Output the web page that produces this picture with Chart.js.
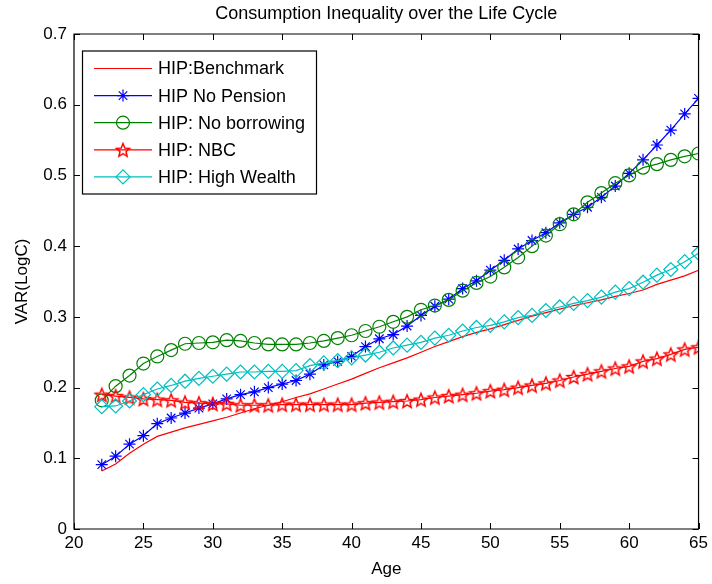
<!DOCTYPE html>
<html><head><meta charset="utf-8">
<script src="https://cdn.jsdelivr.net/npm/chart.js@4.4.0/dist/chart.umd.min.js"></script>
<style>html,body{margin:0;padding:0;background:#fff;}canvas{display:block;}</style>
</head><body>
<canvas id="c" width="712" height="584"></canvas>
<script>
const ages = [22,23,24,25,26,27,28,29,30,31,32,33,34,35,36,37,38,39,40,41,42,43,44,45,46,47,48,49,50,51,52,53,54,55,56,57,58,59,60,61,62,63,64,65];
const benchmark = [0.082,0.092,0.107,0.120,0.131,0.137,0.143,0.148,0.153,0.158,0.164,0.170,0.175,0.180,0.186,0.191,0.198,0.205,0.212,0.220,0.228,0.235,0.242,0.250,0.258,0.265,0.272,0.278,0.283,0.289,0.295,0.301,0.306,0.311,0.316,0.320,0.324,0.329,0.333,0.338,0.346,0.352,0.358,0.366];
const noPension = [0.091,0.103,0.120,0.132,0.149,0.157,0.164,0.171,0.177,0.184,0.190,0.194,0.200,0.205,0.210,0.219,0.232,0.237,0.244,0.258,0.269,0.275,0.287,0.302,0.315,0.325,0.340,0.351,0.366,0.380,0.396,0.408,0.419,0.433,0.445,0.455,0.469,0.485,0.503,0.522,0.543,0.564,0.587,0.609];
const noBorrowing = [0.182,0.202,0.217,0.234,0.244,0.253,0.262,0.263,0.264,0.267,0.266,0.263,0.261,0.261,0.261,0.263,0.266,0.270,0.274,0.280,0.286,0.293,0.300,0.310,0.316,0.324,0.337,0.348,0.357,0.370,0.384,0.400,0.415,0.431,0.445,0.462,0.475,0.489,0.500,0.511,0.516,0.522,0.527,0.531];
const nbc = [0.190,0.188,0.186,0.184,0.183,0.182,0.179,0.178,0.177,0.177,0.175,0.175,0.175,0.176,0.176,0.176,0.176,0.176,0.176,0.178,0.179,0.180,0.181,0.183,0.186,0.188,0.190,0.192,0.195,0.197,0.200,0.203,0.206,0.210,0.215,0.219,0.223,0.227,0.230,0.237,0.241,0.247,0.254,0.257];
const highWealth = [0.173,0.174,0.181,0.190,0.198,0.203,0.209,0.213,0.216,0.219,0.222,0.222,0.223,0.223,0.224,0.231,0.235,0.238,0.242,0.246,0.250,0.256,0.260,0.264,0.270,0.274,0.280,0.285,0.288,0.293,0.299,0.302,0.309,0.314,0.319,0.323,0.328,0.335,0.340,0.349,0.359,0.367,0.378,0.390];
const seriesNames = ['HIP:Benchmark','HIP No Pension','HIP: No borrowing','HIP: NBC','HIP: High Wealth'];
const xTicks = [20,25,30,35,40,45,50,55,60,65];
const yTicks = [0,0.1,0.2,0.3,0.4,0.5,0.6,0.7];
const titleText = 'Consumption Inequality over the Life Cycle';
const xLabel = 'Age';
const yLabel = 'VAR(LogC)';

const FONT = '"Liberation Sans", Arial, Helvetica, sans-serif';

function makePentagram(color, r) {
  const s = Math.ceil(r * 2 + 4);
  const c = document.createElement('canvas');
  c.width = s; c.height = s;
  const g = c.getContext('2d');
  g.strokeStyle = color; g.lineWidth = 1.5;
  g.lineJoin = 'miter';
  g.beginPath();
  for (let i = 0; i < 10; i++) {
    const rr = i % 2 === 0 ? r : r * 0.45;
    const a = -Math.PI / 2 + i * Math.PI / 5;
    const x = s / 2 + rr * Math.cos(a), y = s / 2 + 0.8 + rr * Math.sin(a);
    if (i) g.lineTo(x, y); else g.moveTo(x, y);
  }
  g.closePath(); g.stroke();
  return c;
}
const pent = makePentagram('#ff0000', 7);

const styles = [
  {color:'#ff0000', pointStyle:'circle', radius:0},
  {color:'#0000ff', pointStyle:'star', radius:6},
  {color:'#008000', pointStyle:'circle', radius:6.5},
  {color:'#ff0000', pointStyle:pent, radius:7},
  {color:'#00bfbf', pointStyle:'rectRot', radius:7}
];
const values = [benchmark, noPension, noBorrowing, nbc, highWealth];

const datasets = values.map((vals, i) => ({
  label: seriesNames[i],
  data: ages.map((a, k) => ({x: a, y: vals[k]})),
  borderColor: styles[i].color,
  borderWidth: 1.2,
  backgroundColor: 'rgba(0,0,0,0)',
  pointStyle: styles[i].pointStyle,
  pointRadius: styles[i].radius,
  pointBorderColor: styles[i].color,
  pointBackgroundColor: 'rgba(0,0,0,0)',
  pointBorderWidth: 1.2,
  tension: 0,
  fill: false,
  order: 4 - i
}));

const boxPlugin = {
  id: 'boxPlugin',
  afterDatasetsDraw(chart) {
    const ctx = chart.ctx;
    const {left, right, top, bottom} = chart.chartArea;
    const xs = chart.scales.x, ys = chart.scales.y;
    ctx.save();
    ctx.strokeStyle = '#000';
    ctx.lineWidth = 1.2;
    ctx.beginPath();
    ctx.rect(left, top, right - left, bottom - top);
    ctx.stroke();
    ctx.lineWidth = 1;
    ctx.beginPath();
    xTicks.forEach(v => {
      const px = Math.round(xs.getPixelForValue(v)) + 0.5;
      ctx.moveTo(px, bottom); ctx.lineTo(px, bottom - 6);
      ctx.moveTo(px, top); ctx.lineTo(px, top + 6);
    });
    yTicks.forEach(v => {
      const py = Math.round(ys.getPixelForValue(v)) + 0.5;
      ctx.moveTo(left, py); ctx.lineTo(left + 6, py);
      ctx.moveTo(right, py); ctx.lineTo(right - 6, py);
    });
    ctx.stroke();
    ctx.restore();
  }
};

const legendPlugin = {
  id: 'boxLegend',
  afterDraw(chart) {
    const ctx = chart.ctx;
    const bx = 82.5, by = 51, bw = 234, bh = 143;
    ctx.save();
    ctx.fillStyle = '#fff';
    ctx.fillRect(bx, by, bw, bh);
    ctx.strokeStyle = '#000';
    ctx.lineWidth = 1.2;
    ctx.strokeRect(bx, by, bw, bh);
    ctx.font = '18px ' + FONT;
    ctx.textBaseline = 'middle';
    ctx.textAlign = 'left';
    seriesNames.forEach((name, i) => {
      const y = 68.5 + i * 27.1;
      const st = styles[i];
      ctx.strokeStyle = st.color;
      ctx.lineWidth = 1.2;
      ctx.beginPath();
      ctx.moveTo(94, y); ctx.lineTo(152, y);
      ctx.stroke();
      if (st.radius > 0) {
        ctx.fillStyle = 'rgba(0,0,0,0)';
        ctx.lineWidth = 1.2;
        Chart.helpers.drawPoint(ctx, {pointStyle: st.pointStyle, radius: st.radius, rotation: 0, borderWidth: 1.2}, 123, y);
      }
      ctx.fillStyle = '#000';
      ctx.fillText(name, 158, y + 1);
    });
    ctx.restore();
  }
};

new Chart(document.getElementById('c'), {
  type: 'line',
  data: {datasets},
  options: {
    responsive: false,
    animation: false,
    devicePixelRatio: 1,
    layout: {padding: {left: 0, right: 12, top: 0, bottom: 0}},
    plugins: {
      legend: {display: false},
      tooltip: {enabled: false},
      title: {
        display: true, text: titleText, color: '#000', fullSize: false,
        font: {family: FONT, size: 18, weight: 'normal'},
        padding: {top: 3.5, bottom: 8.9}
      }
    },
    scales: {
      x: {
        type: 'linear', min: 20, max: 65,
        afterBuildTicks(s) { s.ticks = xTicks.map(v => ({value: v})); },
        ticks: {color: '#000', font: {family: FONT, size: 17}, padding: 4, maxRotation: 0, autoSkip: false},
        grid: {display: false, drawTicks: false},
        border: {display: false},
        title: {display: true, text: xLabel, color: '#000', font: {family: FONT, size: 17}, padding: {top: 0, bottom: 4.8}},
        afterFit(s) { s.height = 55; }
      },
      y: {
        type: 'linear', min: 0, max: 0.7,
        afterBuildTicks(s) { s.ticks = yTicks.map(v => ({value: v})); },
        ticks: {color: '#000', font: {family: FONT, size: 17}, padding: 7, autoSkip: false,
          callback: v => String(+v.toFixed(1))},
        grid: {display: false, drawTicks: false},
        border: {display: false},
        title: {display: true, text: yLabel, color: '#000', font: {family: FONT, size: 17}, padding: {top: 12, bottom: 0}},
        afterFit(s) { s.width = 74; }
      }
    }
  },
  plugins: [boxPlugin, legendPlugin]
});
</script>
</body></html>
